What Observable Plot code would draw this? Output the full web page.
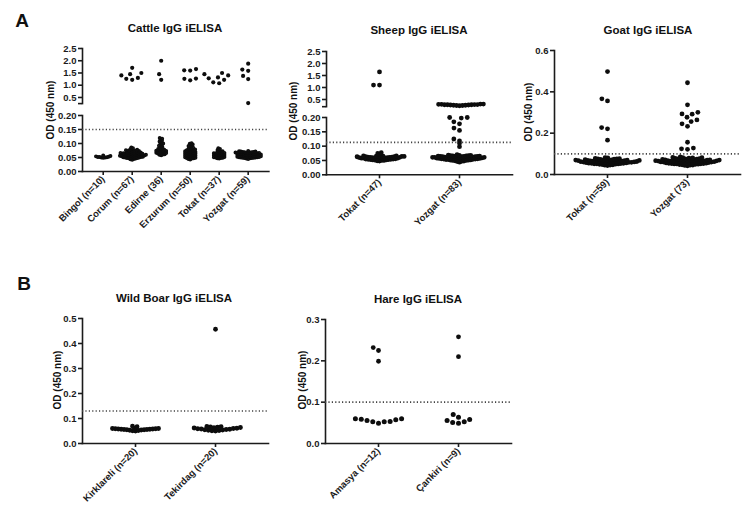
<!DOCTYPE html>
<html><head><meta charset="utf-8">
<script src="https://cdn.jsdelivr.net/npm/d3@7"></script>
<script src="https://cdn.jsdelivr.net/npm/@observablehq/plot@0.6"></script>
<style>
body{margin:0;background:#fff;}
#fig{position:relative;width:750px;height:516px;overflow:hidden;font-family:"Liberation Sans",Arial,Helvetica,sans-serif;color:#111;background:#fff;}
.ttl{position:absolute;font-weight:bold;font-size:11.5px;transform:translate(-50%,-50%);white-space:nowrap;}
.ylab{position:absolute;font-weight:bold;font-size:10px;transform:translate(-50%,-50%) rotate(-90deg);white-space:nowrap;}
.let{position:absolute;font-weight:bold;font-size:19px;transform:translate(-50%,-50%);}
.pa line,.pa path{stroke-width:1.6px;}
.pa g[aria-label="threshold"] line{stroke-width:1px;}
</style></head>
<body><div id="fig"></div>
<script>
// ---------- categories / tick labels ----------
const cattleCats = ["Bingol (n=10)", "Corum (n=67)", "Edirne (36)", "Erzurum (n=50)", "Tokat (n=37)", "Yozgat (n=59)"];
const sheepCats = ["Tokat (n=47)", "Yozgat (n=83)"];
const goatCats = ["Tokat (n=59)", "Yozgat (73)"];
const boarCats = ["Kirklareli (n=20)", "Tekirdag (n=20)"];
const hareCats = ["Amasya (n=12)", "Çankiri (n=9)"];
const titles = ["Cattle IgG iELISA", "Sheep IgG iELISA", "Goat IgG iELISA", "Wild Boar IgG iELISA", "Hare IgG iELISA"];
const yTitle = "OD (450 nm)";
const lowTicks2 = [0, 0.05, 0.10, 0.15, 0.20];
const highTicks = [0.5, 1.0, 1.5, 2.0, 2.5];
const goatTicks = [0, 0.2, 0.4, 0.6];
const boarTicks = [0, 0.1, 0.2, 0.3, 0.4, 0.5];
const hareTicks = [0, 0.1, 0.2, 0.3];
// cut-off (dotted line) per panel
const cutCattle = 0.15, cutSheep = 0.113, cutGoat = 0.10, cutBoar = 0.13, cutHare = 0.10;

// ---------- OD values ----------
const cattleBingol = [0.049,0.050,0.050,0.051,0.052,0.052,0.053,0.054,0.055,0.057];
const cattleCorum = [0.042,0.044,0.045,0.046,0.047,0.048,0.048,0.049,0.050,0.050,
0.051,0.051,0.052,0.052,0.053,0.053,0.054,0.054,0.055,0.055,
0.056,0.056,0.057,0.057,0.057,0.058,0.058,0.059,0.059,0.060,
0.060,0.061,0.061,0.062,0.062,0.063,0.063,0.064,0.064,0.065,
0.065,0.066,0.066,0.067,0.068,0.068,0.069,0.070,0.071,0.072,
0.073,0.073,0.074,0.075,0.076,0.077,0.078,0.080,0.083,0.086,
1.22,1.26,1.30,1.40,1.45,1.50,1.71];
const cattleEdirne = [0.058,0.060,0.061,0.062,0.064,0.065,0.066,0.067,0.068,0.069,
0.070,0.071,0.072,0.073,0.074,0.076,0.077,0.078,0.080,0.082,
0.085,0.087,0.090,0.092,0.095,0.098,0.100,0.104,0.107,0.110,
0.114,0.117,0.120,1.22,1.45,2.00];
const cattleErzurum = [0.043,0.045,0.046,0.047,0.048,0.049,0.050,0.051,0.052,0.053,
0.054,0.055,0.056,0.057,0.058,0.059,0.060,0.061,0.062,0.063,
0.064,0.065,0.066,0.067,0.068,0.069,0.070,0.071,0.072,0.073,
0.074,0.075,0.076,0.078,0.079,0.081,0.083,0.085,0.088,0.091,
0.094,0.096,0.099,0.101,1.20,1.26,1.27,1.60,1.61,1.66];
const cattleTokat = [0.046,0.047,0.048,0.049,0.050,0.051,0.052,0.053,0.054,0.055,
0.056,0.057,0.058,0.059,0.060,0.061,0.062,0.063,0.064,0.065,
0.066,0.067,0.069,0.070,0.072,0.074,0.077,0.080,0.083,
1.08,1.12,1.22,1.28,1.32,1.40,1.45,1.50];
const cattleYozgat = [0.045,0.046,0.047,0.048,0.048,0.049,0.049,0.050,0.050,0.051,
0.051,0.052,0.052,0.053,0.053,0.054,0.054,0.055,0.055,0.056,
0.056,0.057,0.057,0.058,0.058,0.059,0.059,0.060,0.060,0.061,
0.061,0.062,0.062,0.063,0.063,0.064,0.064,0.065,0.065,0.066,
0.066,0.067,0.067,0.068,0.068,0.069,0.069,0.070,0.070,0.071,
0.071,0.072,0.073,0.27,1.25,1.38,1.59,1.64,1.88];

const sheepTokat = [0.048,0.049,0.050,0.050,0.051,0.052,0.052,0.053,0.053,0.054,
0.054,0.055,0.055,0.056,0.056,0.057,0.057,0.058,0.058,0.058,
0.059,0.059,0.060,0.060,0.060,0.061,0.061,0.061,0.062,0.062,
0.062,0.063,0.063,0.063,0.064,0.064,0.064,0.065,0.065,0.066,
0.066,0.071,0.075,0.077,1.10,1.10,1.65];
const sheepYozgat = [0.044,0.046,0.047,0.048,0.049,0.050,0.050,0.051,0.051,0.052,
0.052,0.053,0.053,0.054,0.054,0.055,0.055,0.055,0.056,0.056,
0.056,0.057,0.057,0.057,0.058,0.058,0.058,0.059,0.059,0.059,
0.060,0.060,0.060,0.061,0.061,0.061,0.062,0.062,0.062,0.063,
0.063,0.063,0.064,0.064,0.064,0.065,0.065,0.065,0.066,0.066,
0.067,0.067,0.068,0.069,
0.068,0.070,0.098,0.110,0.118,0.125,0.155,0.163,0.178,0.185,0.198,0.200,0.200,
0.24,0.25,0.25,0.26,0.26,0.27,0.27,0.28,0.28,0.28,0.29,0.29,0.30,0.30,0.31,0.31];

const goatTokat = [0.043,0.045,0.046,0.047,0.048,0.049,
0.050,0.051,0.052,0.052,0.053,0.054,0.054,0.055,0.056,0.056,0.057,
0.058,0.058,0.059,0.059,0.060,0.060,0.061,0.061,0.062,0.062,0.063,0.063,0.064,0.064,0.065,0.065,0.066,0.066,
0.067,0.067,0.068,0.068,0.069,0.069,0.070,0.070,0.071,0.072,0.073,0.074,0.075,0.076,0.077,0.078,0.080,0.082,
0.166,0.221,0.227,0.356,0.366,0.498];
const goatYozgat = [0.042,0.044,0.045,0.046,0.047,0.048,
0.049,0.050,0.051,0.051,0.052,0.053,0.053,0.054,0.055,0.055,0.056,0.057,
0.058,0.058,0.059,0.059,0.060,0.060,0.061,0.061,0.062,0.062,0.063,0.063,0.064,0.064,0.065,0.065,0.066,0.066,0.067,0.067,
0.068,0.068,0.069,0.069,0.070,0.070,0.071,0.071,0.072,0.073,0.074,0.075,0.076,0.077,0.078,0.079,0.080,0.081,0.082,0.083,0.085,
0.122,0.124,0.128,0.156,0.233,0.245,0.256,0.264,0.277,0.292,0.293,0.301,0.337,0.444];

const boarKirklareli = [0.050,0.051,0.052,0.053,0.054,0.055,0.055,0.056,0.056,0.057,
0.057,0.058,0.058,0.059,0.059,0.060,0.060,0.061,0.067,0.069];
const boarTekirdag = [0.050,0.051,0.052,0.053,0.054,0.055,0.056,0.057,0.058,0.059,
0.060,0.061,0.062,0.063,0.064,0.065,0.066,0.067,0.068,0.457];

const hareAmasya = [0.049,0.0525,0.0525,0.0533,0.0557,0.0573,0.0588,0.0597,0.0597,0.199,0.225,0.232];
const hareCankiri = [0.049,0.051,0.0525,0.0557,0.058,0.0637,0.070,0.210,0.258];

// ---------- drawing ----------
const FONT = '"Liberation Sans", Arial, Helvetica, sans-serif';
const fig = document.getElementById("fig");
const ML = 45, MR = 10, MT = 5;
const INK = "#0d0d0d";

function place(el, left, top) {
  const d = document.createElement("div");
  d.style.position = "absolute"; d.style.left = left + "px"; d.style.top = top + "px";
  d.appendChild(el); fig.appendChild(d);
}
function text(cls, s, x, y) {
  const d = document.createElement("div");
  d.className = cls; d.textContent = s; d.style.left = x + "px"; d.style.top = y + "px";
  fig.appendChild(d);
}

function segment(cfg) {
  const {x0, x1, yTop, yBot} = cfg.frame;
  const mb = cfg.labels ? 80 : 5;
  const common = {width: x1 - x0 + ML + MR, height: yBot - yTop + MT + mb,
    marginLeft: ML, marginRight: MR, marginTop: MT, marginBottom: mb};
  const style = {fontFamily: FONT, fontSize: "9.5px", fontWeight: "bold", color: "#1b1b1b",
    background: "transparent", overflow: "visible"};
  const axMarks = [Plot.dot(cfg.cats, {x: (d) => d, y: () => cfg.y[0], r: 0})];
  if (cfg.cut != null) axMarks.push(Plot.ruleY([cfg.cut], {stroke: "#444", strokeWidth: 1,
    strokeDasharray: "1.2,2.2", ariaLabel: "threshold"}));
  const A = Plot.plot({...common, style,
    x: {type: "band", domain: cfg.cats, paddingInner: 0, paddingOuter: cfg.po, round: false,
      axis: cfg.labels ? "bottom" : null, tickRotate: -45, tickSize: 4, tickPadding: 2, label: null, line: true},
    y: {domain: cfg.y, ticks: cfg.ticks, tickFormat: cfg.fmt, tickSize: 4, tickPadding: 2, label: null, line: true},
    marks: axMarks});
  A.classList.add("pa");
  const dotMarks = [];
  for (const g of cfg.groups) {
    const inSeg = g.values.filter(cfg.keep);
    const dense = inSeg.filter((v) => cfg.cut == null || v < cfg.cut);
    const sparse = inSeg.filter((v) => !(cfg.cut == null || v < cfg.cut));
    for (const [vals, o] of [[dense, g.dense || cfg.dense], [sparse, g.sparse || cfg.sparse]]) {
      if (!vals.length) continue;
      const data = vals.map((v) => ({cat: g.cat, v})).sort((a, b) => a.v - b.v);
      dotMarks.push(Plot.dot(data, Plot.dodgeX({anchor: "middle", r: o.r, padding: o.pad},
        {fx: "cat", y: "v", r: o.r, fill: INK, stroke: o.sw ? INK : "none", strokeWidth: o.sw || 0})));
    }
  }
  const B = Plot.plot({...common, style,
    fx: {domain: cfg.cats, paddingInner: 0, paddingOuter: cfg.po, round: false, axis: null, label: null},
    x: {axis: null}, y: {domain: cfg.y, axis: null},
    marks: dotMarks});
  place(A, x0 - ML, yTop - MT);
  place(B, x0 - ML, yTop - MT);
}

const f2 = d3.format(".2f"), f1 = d3.format(".1f");
const sparseStd = {r: 2.4, pad: 1.2, sw: 0};

// Cattle (broken axis)
const cattleGroups = [cattleBingol, cattleCorum, cattleEdirne, cattleErzurum, cattleTokat, cattleYozgat]
  .map((values, i) => ({cat: cattleCats[i], values}));
const cattleFrame = {x0: 82, x1: 268.4};
segment({cats: cattleCats, po: 0.214, y: [0.25, 2.5], ticks: [0.25, ...highTicks],
  fmt: (d) => d < 0.4 ? "" : f1(d), frame: {...cattleFrame, yTop: 48.3, yBot: 103.4},
  labels: false, cut: null, keep: (v) => v >= 0.2, groups: cattleGroups,
  dense: {r: 2.1, pad: 1.8, sw: 0}, sparse: {r: 2.1, pad: 1.8, sw: 0}});
segment({cats: cattleCats, po: 0.214, y: [0, 0.2], ticks: lowTicks2, fmt: f2,
  frame: {...cattleFrame, yTop: 115, yBot: 171}, labels: true, cut: cutCattle,
  keep: (v) => v < 0.2, groups: cattleGroups,
  dense: {r: 0.8, pad: 0.25, sw: 2.4}, sparse: {r: 2.1, pad: 1.6, sw: 0}});

// Sheep (broken axis)
const sheepGroups = [sheepTokat, sheepYozgat].map((values, i) => ({cat: sheepCats[i], values}));
const sheepFrame = {x0: 326, x1: 512};
segment({cats: sheepCats, po: 0.1625, y: [0.2, 2.5], ticks: [0.2, ...highTicks],
  fmt: (d) => d < 0.4 ? "" : f1(d), frame: {...sheepFrame, yTop: 51, yBot: 106.2},
  labels: false, cut: null, keep: (v) => v >= 0.21,
  groups: [{...sheepGroups[0], dense: sparseStd}, {...sheepGroups[1], dense: {r: 1.5, pad: 0, sw: 1.8}}],
  dense: sparseStd, sparse: sparseStd});
segment({cats: sheepCats, po: 0.1625, y: [0, 0.2], ticks: lowTicks2, fmt: f2,
  frame: {...sheepFrame, yTop: 116.7, yBot: 174}, labels: true, cut: cutSheep,
  keep: (v) => v < 0.21, groups: sheepGroups,
  dense: {r: 1.0, pad: 0.3, sw: 2.8}, sparse: sparseStd});

// Goat
segment({cats: goatCats, po: 0.1625, y: [0, 0.6], ticks: goatTicks, fmt: f1,
  frame: {x0: 554, x1: 740, yTop: 50, yBot: 174}, labels: true, cut: cutGoat,
  keep: () => true, groups: [goatTokat, goatYozgat].map((values, i) => ({cat: goatCats[i], values})),
  dense: {r: 1.2, pad: 0.3, sw: 2.4}, sparse: sparseStd});

// Wild boar
segment({cats: boarCats, po: 0.1625, y: [0, 0.5], ticks: boarTicks, fmt: f1,
  frame: {x0: 82, x1: 268, yTop: 318, yBot: 443}, labels: true, cut: cutBoar,
  keep: () => true,
  groups: [{cat: boarCats[0], values: boarKirklareli},
           {cat: boarCats[1], values: boarTekirdag, dense: {r: 1.65, pad: 0.3, sw: 1.6}}],
  dense: {r: 1.3, pad: 0.3, sw: 2.2}, sparse: sparseStd});

// Hare
segment({cats: hareCats, po: 0.1625, y: [0, 0.3], ticks: hareTicks, fmt: f1,
  frame: {x0: 325, x1: 511, yTop: 319, yBot: 443}, labels: true, cut: cutHare,
  keep: () => true, groups: [hareAmasya, hareCankiri].map((values, i) => ({cat: hareCats[i], values})),
  dense: {r: 2.5, pad: 0.9, sw: 0}, sparse: sparseStd});

// titles, y titles, panel letters
text("ttl", titles[0], 175, 28);
text("ttl", titles[1], 419, 30);
text("ttl", titles[2], 648, 30);
text("ttl", titles[3], 174, 298);
text("ttl", titles[4], 418, 299);
text("ylab", yTitle, 50, 110);
text("ylab", yTitle, 293, 111);
text("ylab", yTitle, 528, 112);
text("ylab", yTitle, 57, 380);
text("ylab", yTitle, 302, 380);
text("let", "A", 22, 21);
text("let", "B", 24, 284);
</script></body></html>
